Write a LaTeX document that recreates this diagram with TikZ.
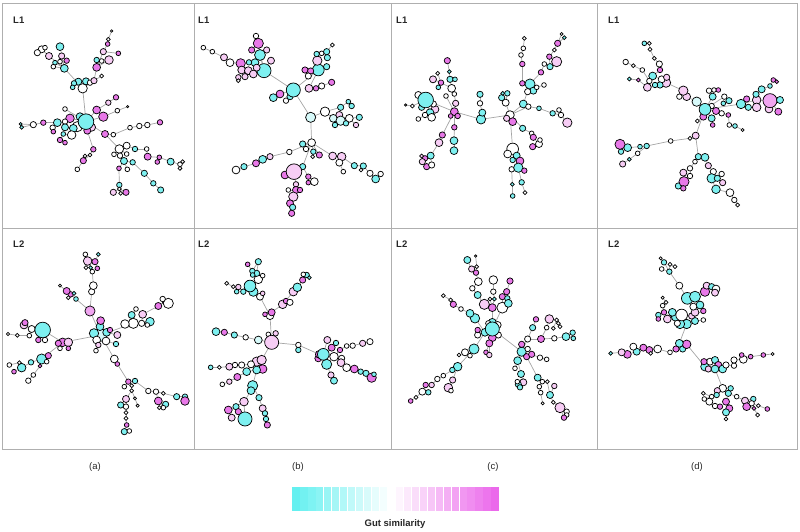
\documentclass[tikz,border=0pt]{standalone}
\usepackage{fontspec}
\setmainfont{Liberation Sans}
\pgfdeclarelayer{bg}
\pgfsetlayers{bg,main}
\definecolor{Cy}{RGB}{125,240,240}
\definecolor{Mg}{RGB}{232,120,232}
\definecolor{Mp}{RGB}{240,165,240}
\definecolor{Pk}{RGB}{247,205,245}
\definecolor{Lc}{RGB}{215,250,250}
\definecolor{Wh}{RGB}{255,255,255}
\definecolor{BC}{RGB}{100,240,240}
\definecolor{BM}{RGB}{235,105,235}
\definecolor{Fr}{RGB}{175,175,175}
\definecolor{Ed}{RGB}{165,165,165}
\tikzset{
 vtx/.style={circle,draw=black,line width=0.72pt,inner sep=0pt,outer sep=0pt},
 lnk/.style={draw=Ed,line width=0.7pt},
 frm/.style={draw=Fr,line width=0.9pt},
 plab/.style={font=\fontsize{9.5}{11}\selectfont\bfseries,text=black!85,anchor=west,inner sep=0pt},
 clab/.style={font=\fontsize{9.5}{11}\selectfont,text=black!85,inner sep=0pt}
}
\newcommand\EL{}
\newcommand\NL[1]{\foreach \vN/\vP/\vX/\vY/\vR/\vC in {#1}{%
  \node[vtx,minimum size={\vR*0.78pt},fill=\vC] (\vN) at (\vX,\vY) {};%
  \xdef\EL{\unexpanded\expandafter{\EL}\noexpand\draw[lnk] (\vP.center) -- (\vN.center);}}}
\newcommand\RT[5]{\node[vtx,minimum size={#4*0.78pt},fill=#5] (#1) at (#2,#3) {};}
\begin{document}
\begin{tikzpicture}[x=1pt,y=-1pt]
\useasboundingbox (0,0) rectangle (800,531);
\draw[frm] (2,3) rectangle (797,449);
\draw[frm] (194,3) -- (194,449);
\draw[frm] (391,3) -- (391,449);
\draw[frm] (597,3) -- (597,449);
\draw[frm] (2,228) -- (797,228);
% ---------- panel a L1
\begin{scope}[shift={(0pt,0pt)},x=0.3333pt,y=-0.3333pt]
\NL{%
a2/a1/248/265/12/Wh,a3/a2/235/245/9/Cy,a4/a2/222/250/7/Cy,a5/a4/218/262/6/Cy,a6/a2/258/244/9/Cy,%
a7/a2/270/248/7/Wh,a8/a2/282/242/8/Pk,a9/a2/193/205/10/Cy,a10/a9/180/140/10/Cy,a11/a9/147/168/9/Pk,%
a12/a11/125/148/9/Wh,a13/a12/112/158/8/Wh,a14/a12/135/143/6/Wh,a15/a9/185/168/8/Pk,a16/a9/200/182/7/Mg,%
a17/a9/165/188/6/Cy,a18/a9/180/185/6/Wh,a19/a9/160/200/6/Wh,a21/a8/290/202/10/Mg,a22/a21/290/180/7/Cy,%
a23/a21/305/183/6/Wh,a24/a21/327/180/11/Pk,a25/a21/310/155/8/Pk,a26/a25/323/132/6/Mg,a27/a26/325/118/5/Wh,%
a28/a27/335/93/3/Wh,a29/a25/355/160/6/Mg,a30/a8/305/228/5/Wh,a31/a1/210/355/11/Mg,a32/a1/240/350/10/Cy,%
a33/a1/232/380/13/Wh,a34/a1/275/382/10/Pk,a35/a1/262/392/9/Mg,a36/a1/290/330/10/Mg,a37/a1/310/350/12/Mg,%
a38/a36/325/308/7/Pk,a39/a38/348/292/7/Mg,a40/a37/352/332/6/Wh,a41/a40/383/320/3/Wh,a42/a1/195/327/6/Wh,%
a44/a31/195/365/7/Wh,a45/a44/172/368/10/Cy,a46/a45/158/383/7/Wh,a47/a46/160/395/6/Mg,a48/a45/130/368/7/Mg,%
a49/a48/100/374/8/Wh,a50/a49/62/372/4/Cy,a51/a49/65/382/5/Cy,a53/a33/220/385/10/Cy,a54/a53/195/382/9/Cy,%
a55/a53/215/405/11/Wh,a56/a55/190/402/6/Cy,a57/a56/180/420/7/Mg,a58/a57/195/428/6/Mg,a59/a1/315/402/9/Mg,%
a60/a59/340/404/6/Wh,a61/a60/390/383/6/Wh,a62/a61/418/378/7/Wh,a64/a62/442/375/7/Wh,a65/a64/480/367/7/Mg,%
a66/a59/358/447/11/Wh,a67/a66/380/437/9/Wh,a68/a66/342/463/6/Wh,a69/a66/360/467/7/Wh,a70/a66/380/462/6/Wh,%
a71/a66/372/483/9/Cy,a72/a71/382/508/6/Wh,a73/a71/357/505/6/Mg,a74/a67/405/447/7/Cy,a75/a74/440/447/6/Wh,%
a76/a75/443/470/9/Mg,a77/a76/478/472/6/Mg,a78/a77/472/486/6/Mg,a79/a77/512/485/9/Cy,a80/a79/540/493/6/Wh,%
a81/a80/548/485/5/Wh,a82/a80/540/505/5/Wh,a83/a71/398/487/7/Cy,a84/a83/433/520/8/Cy,a85/a84/460/550/7/Cy,%
a86/a85/482/570/8/Cy,a87/a73/358/555/7/Cy,a88/a87/358/567/5/Wh,a89/a88/340/577/8/Pk,a90/a88/378/577/8/Mg,%
a91/a88/362/580/5/Wh,a92/a35/280/448/7/Mg,a93/a92/270/465/5/Wh,a94/a93/255/468/5/Wh,a95/a93/250/482/8/Mg,%
a96/a95/232/508/6/Wh}
\RT{a1}{258}{365}{20}{Cy}
\end{scope}
% ---------- panel b L1
\begin{scope}[shift={(190pt,0pt)},x=0.3333pt,y=-0.3333pt]
\NL{%
b2/b1/362/352/13/Lc,b3/b1/222/212/18/Cy,b4/b1/385/210/15/Cy,b5/b3/205/130/13/Mg,b6/b5/198/108/7/Wh,%
b7/b5/185/150/8/Mg,b9/b8/230/150/8/Pk,b10/b3/243/182/9/Pk,b8/b3/210/165/14/Cy,b11/b3/195/188/10/Cy,%
b12/b11/177/187/7/Cy,b13/b11/152/190/12/Mg,b14/b13/120/188/10/Wh,b15/b14/102/172/9/Pk,b16/b15/67/155/6/Wh,%
b17/b16/40/143/6/Wh,b18/b13/155/210/10/Pk,b19/b3/175/212/10/Pk,b20/b3/190/222/10/Pk,b21/b3/200/203/9/Pk,%
b22/b18/145/232/7/Pk,b23/b22/145/242/5/Wh,b24/b19/165/230/8/Pk,b26/b1/270/282/10/Mg,b27/b26/250/293/10/Cy,%
b28/b1/288/302/7/Wh,b29/b1/300/290/8/Cy,b31/b4/382/182/12/Pk,b32/b31/380/162/7/Cy,b33/b31/395/160/6/Wh,%
b34/b33/410/155/8/Cy,b35/b34/412/173/8/Cy,b36/b34/427/135/5/Wh,b37/b4/345/210/8/Mg,b38/b4/362/213/8/Mg,%
b39/b38/355/228/8/Wh,b40/b4/410/200/8/Cy,b41/b4/357/265/10/Pk,b42/b41/378/265/7/Mg,b43/b42/395/258/8/Wh,%
b44/b43/425/247/8/Mg,b45/b2/405/335/12/Wh,b46/b45/430/355/10/Lc,b47/b45/452/322/8/Cy,b48/b47/475/305/6/Cy,%
b49/b48/485/318/7/Cy,b50/b46/448/345/9/Pk,b51/b46/452/362/12/Lc,b52/b51/478/355/10/Wh,b53/b51/468/370/7/Cy,%
b54/b52/508/352/8/Cy,b55/b52/498/375/7/Pk,b56/b46/435/375/7/Cy,b57/b2/365/428/10/Wh,b58/b57/338/432/8/Cy,%
b59/b57/348/447/7/Wh,b60/b57/370/455/7/Cy,b61/b57/388/465/8/Mg,b62/b60/368/470/5/Wh,b63/b57/298/456/7/Wh,%
b64/b63/240/470/8/Pk,b65/b64/218/478/10/Cy,b66/b65/198/490/9/Mg,b67/b66/162/500/8/Cy,b68/b67/138/510/10/Wh,%
b69/b57/428/468/10/Pk,b70/b69/455/470/11/Pk,b71/b70/448/488/9/Wh,b72/b71/460/515/6/Wh,b73/b70/493/497/8/Cy,%
b74/b73/520/498/8/Cy,b75/b74/513/510/5/Wh,b76/b74/540/520/8/Wh,b77/b76/557/537/10/Cy,b78/b77/572/522/7/Wh,%
b79/b57/338/500/8/Cy,b81/b80/285/525/10/Mg,b80/b79/312/515/20/Pk,b82/b79/355/530/7/Mg,b83/b82/355/548/6/Mg,%
b84/b83/373/545/10/Wh,b85/b80/318/553/7/Pk,b86/b85/318/570/9/Mg,b87/b86/295/570/6/Wh,b88/b86/310/590/12/Pk,%
b89/b88/300/610/9/Mg,b90/b89/308/622/8/Cy,b91/b90/305/640/8/Mg,b92/b85/330/570/7/Mg}
\RT{b1}{310}{270}{18}{Cy}
\end{scope}
% ---------- panel c L1
\begin{scope}[shift={(385pt,0pt)},x=0.3333pt,y=-0.3333pt]
\RT{c1}{208}{335}{10}{Mg}
\NL{%
c2/c1/218/348/7/Mg,c3/c1/197/348/6/Mg,c4/c1/212/310/8/Pk,c5/c4/208/282/6/Wh,c7/c5/200/265/10/Wh,%
c8/c7/195/238/8/Cy,c9/c8/210/238/6/Cy,c10/c8/193/215/5/Cy,c11/c10/187/182/8/Mg,c12/c7/168/248/7/Mg,%
c13/c12/158/220/5/Wh,c14/c12/160/262/6/Cy,c15/c12/144/238/9/Pk,c16/c1/183/288/6/Wh,c18/c17/100/285/9/Wh,%
c19/c17/110/322/8/Cy,c21/c17/150/328/10/Pk,c27/c17/145/312/8/Wh,c25/c17/82/318/5/Wh,c26/c25/62/315/3/Wh,%
c17/c1/122/300/20/Cy,c20/c17/135/338/10/Cy,c22/c20/140/352/10/Wh,c23/c20/120/345/7/Wh,c24/c23/100/357/6/Wh,%
c28/c1/208/382/7/Mg,c29/c28/207/422/10/Cy,c30/c29/207/452/10/Cy,c31/c1/172/405/8/Mg,c32/c31/162/428/10/Pk,%
c33/c32/137/467/9/Cy,c34/c33/120/475/7/Mg,c38/c34/110/468/5/Pk,c35/c34/112/485/8/Pk,c36/c34/125/500/8/Mg,%
c37/c33/140/495/8/Wh,c39/c1/288/358/12/Cy,c40/c39/292/338/9/Cy,c41/c40/285/310/7/Wh,c42/c41/285/283/8/Cy,%
c43/c39/375/345/11/Wh,c44/c43/383/365/10/Mg,c45/c43/365/355/8/Pk,c46/c43/362/308/9/Wh,c47/c46/350/293/8/Cy,%
c48/c46/367/280/7/Cy,c49/c47/353/280/5/Cy,c50/c43/415/312/10/Cy,c51/c50/435/252/13/Cy,c52/c51/445/272/9/Cy,%
c53/c51/428/275/8/Wh,c54/c51/455/262/6/Wh,c55/c54/477/255/6/Wh,c56/c51/412/250/7/Mg,c57/c56/412/192/7/Mg,%
c58/c57/408/165/6/Wh,c59/c58/415/145/6/Wh,c60/c59/418/115/5/Wh,c61/c51/468/217/7/Mg,c62/c61/478/192/6/Wh,%
c63/c62/495/200/8/Cy,c64/c63/493/170/7/Mg,c65/c63/515/185/13/Pk,c66/c64/508/150/5/Wh,c67/c66/518/130/8/Mg,%
c68/c67/530/102/4/Wh,c69/c67/538/113/5/Cy,c70/c43/430/320/7/Wh,c71/c70/462/325/6/Cy,c72/c71/503/340/7/Cy,%
c73/c72/522/330/6/Wh,c74/c72/528/345/7/Wh,c75/c74/547/368/12/Pk,c76/c43/413/385/8/Cy,c77/c76/440/400/6/Wh,%
c78/c77/445/412/8/Mg,c79/c78/462/432/9/Wh,c80/c79/465/420/6/Wh,c81/c79/443/440/8/Mg,c82/c43/383/447/15/Wh,%
c83/c82/368/462/10/Wh,c84/c82/395/467/9/Cy,c85/c84/383/480/7/Cy,c86/c84/405/483/10/Mg,c88/c87/380/508/7/Wh,%
c87/c86/400/503/12/Cy,c89/c87/418/512/7/Mg,c90/c87/410/547/7/Cy,c91/c88/382/553/5/Cy,c92/c90/420/578/5/Wh,%
c93/c91/383/588/6/Cy}
\end{scope}
% ---------- panel d L1
\begin{scope}[shift={(590pt,0pt)},x=0.3333pt,y=-0.3333pt]
\NL{%
d2/d1/320/305/12/Lc,d3/d1/340/350/9/Mg,d4/d1/365/355/9/Cy,d5/d1/378/333/9/Mg,d6/d5/395/340/7/Wh,%
d7/d1/365/318/7/Wh,d8/d4/368/375/6/Mg,d9/d1/368/290/9/Cy,d10/d9/357/272/7/Wh,d11/d9/372/270/6/Wh,%
d12/d11/385/270/6/Mg,d13/d1/403/290/7/Wh,d14/d13/417/302/8/Cy,d15/d13/400/310/6/Cy,d17/d6/415/345/6/Mg,%
d18/d17/418/375/6/Wh,d19/d18/435/378/6/Cy,d20/d19/458/390/4/Wh,d21/d3/322/363/5/Wh,d22/d1/453/312/12/Cy,%
d23/d22/470/297/8/Mg,d24/d22/475/322/8/Cy,d25/d22/500/300/11/Pk,d26/d25/500/322/11/Pk,d27/d25/498/283/8/Cy,%
d28/d27/515/268/9/Cy,d32/d29/537/327/10/Pk,d29/d25/540/302/18/Mp,d30/d29/570/300/9/Cy,d31/d29/565/335/9/Mg,%
d33/d28/540/258/6/Cy,d34/d33/550/240/6/Mg,d35/d34/560/245/5/Mg,d36/d2/290/290/10/Pk,d37/d36/280/272/12/Pk,%
d38/d37/268/290/7/Wh,d39/d37/228/248/12/Pk,d40/d39/215/238/9/Wh,d41/d40/230/232/8/Pk,d42/d39/210/255/8/Cy,%
d43/d42/195/255/7/Cy,d44/d40/188/228/10/Cy,d45/d42/172/262/10/Pk,d46/d44/178/243/7/Wh,d47/d44/210/210/7/Mg,%
d48/d47/208/192/8/Wh,d49/d48/193/175/5/Wh,d50/d49/180/148/5/Wh,d51/d50/178/130/5/Wh,d52/d51/163/130/6/Cy,%
d53/d46/157/210/6/Wh,d54/d53/130/197/5/Wh,d55/d54/107/186/7/Wh,d56/d45/145/240/5/Mg,d57/d56/118/237/5/Cy,%
d58/d1/317/407/9/Pk,d59/d58/300/415/5/Wh,d60/d59/242/423/6/Wh,d61/d60/170/438/7/Cy,d62/d61/150/440/6/Cy,%
d63/d62/113/443/10/Cy,d65/d64/93/455/7/Cy,d64/d63/90/433/13/Mg,d66/d61/143/460/6/Wh,d67/d66/118/478/5/Cy,%
d68/d67/98/492/8/Pk,d69/d58/325/470/8/Cy,d70/d69/345/472/10/Cy,d71/d70/355/497/8/Pk,d72/d69/315/485/6/Wh,%
d73/d72/300/505/7/Wh,d74/d73/280/518/9/Pk,d75/d73/300/528/7/Wh,d77/d76/265/558/8/Cy,d76/d74/282/545/13/Mg,%
d78/d76/280/565/7/Mg,d79/d71/370/515/8/Wh,d80/d79/365/535/12/Cy,d81/d79/382/535/8/Cy,d82/d81/395/522/7/Wh,%
d83/d81/398/548/8/Pk,d84/d80/378/568/11/Cy,d85/d84/420/578/10/Wh,d86/d85/433/600/7/Wh,d87/d86/443/615/5/Wh}
\RT{d1}{345}{328}{15}{Cy}
\end{scope}
% ---------- panel a L2
\begin{scope}[shift={(0pt,-225pt)},x=0.3333pt,y=-0.3333pt]
\RT{e1}{302}{330}{16}{Lc}
\NL{%
e2/e1/300/305/10/Cy,e3/e2/302/287/10/Mg,e4/e1/282/325/12/Cy,e5/e1/320/322/10/Cy,e6/e1/290/345/10/Wh,%
e7/e1/318/348/10/Wh,e8/e6/295/360/7/Pk,e9/e8/288/377/6/Wh,e10/e5/330/315/7/Mg,e11/e5/352/330/9/Pk,%
e12/e7/348/357/7/Cy,e13/e1/270/258/13/Mp,e14/e13/275/200/8/Wh,e15/e14/280/182/10/Wh,e16/e15/277/140/6/Wh,%
e17/e16/263/108/11/Pk,e18/e17/256/88/6/Wh,e19/e17/285/110/8/Mg,e20/e19/295/88/5/Cy,e21/e19/292/130/6/Mg,%
e22/e17/272/128/5/Cy,e23/e22/258/128/5/Wh,e24/e13/228/222/6/Cy,e25/e24/212/208/7/Mg,e26/e25/200/198/9/Mg,%
e27/e26/180/182/4/Wh,e28/e25/222/205/5/Cy,e29/e25/205/218/5/Wh,e30/e1/400/295/13/Wh,e31/e30/375/297/11/Wh,%
e32/e30/395/270/9/Cy,e33/e32/408/252/6/Wh,e34/e30/425/295/8/Wh,e35/e34/428/268/10/Pk,e36/e34/450/290/11/Cy,%
e37/e36/442/300/6/Wh,e38/e35/475/243/9/Mg,e39/e38/495/230/7/Mg,e40/e39/505/235/13/Wh,e41/e39/488/222/7/Wh,%
e42/e1/188/352/11/Mg,e43/e42/205/352/11/Pk,e44/e42/175/355/8/Mg,e45/e43/205/370/6/Mg,e46/e42/180/370/6/Wh,%
e48/e47/95/312/9/Wh,e49/e48/72/300/10/Pk,e50/e49/75/293/8/Mg,e47/e42/128/315/20/Cy,e51/e47/115/345/7/Mg,%
e52/e47/135/345/7/Wh,e53/e48/88/332/6/Wh,e54/e53/52/331/5/Wh,e55/e54/24/327/4/Wh,e56/e42/125/402/13/Cy,%
e57/e56/145/392/8/Mg,e58/e56/140/410/6/Wh,e59/e56/93/412/7/Cy,e60/e59/65/428/11/Cy,e61/e60/58/413/5/Wh,%
e62/e60/42/440/6/Mg,e63/e61/28/420/6/Wh,e64/e56/120/423/5/Mg,e65/e64/100/450/6/Wh,e66/e65/85/467/7/Wh,%
e67/e1/343/402/10/Wh,e68/e67/352/417/6/Mg,e69/e68/385/470/7/Mg,e70/e69/405/468/7/Cy,e71/e69/373/485/6/Wh,%
e72/e69/395/482/5/Wh,e73/e72/395/497/5/Wh,e74/e73/378/522/9/Pk,e75/e74/362/540/8/Cy,e76/e74/378/545/7/Wh,%
e77/e73/405/520/4/Wh,e78/e77/413/542/4/Wh,e79/e76/378/563/5/Wh,e80/e79/378/580/5/Wh,e81/e80/380/600/6/Mg,%
e82/e81/373/620/8/Cy,e83/e82/388/618/6/Wh,e84/e70/445/498/7/Wh,e85/e84/468/500/7/Wh,e86/e85/490/505/5/Wh,%
e87/e85/475/528/10/Mg,e88/e87/497/538/8/Cy,e89/e87/490/548/6/Wh,e90/e87/478/548/5/Wh,e91/e86/530/515/8/Cy,%
e92/e91/555/515/7/Cy,e93/e92/555/528/11/Mg}
\end{scope}
% ---------- panel b L2
\begin{scope}[shift={(190pt,-225pt)},x=0.3333pt,y=-0.3333pt]
\NL{%
f2/f1/235/328/6/Wh,f3/f1/257/325/7/Pk,f5/f1/240/272/10/Wh,f6/f5/245/262/9/Mg,f7/f5/225/268/6/Mg,%
f8/f5/210/215/9/Wh,f9/f8/190/200/12/Cy,f10/f9/180/183/15/Cy,f11/f10/205/163/11/Wh,f12/f11/200/145/8/Cy,%
f13/f12/205/110/8/Cy,f14/f13/187/138/7/Cy,f15/f14/188/150/6/Cy,f16/f14/173/118/6/Mg,f17/f11/218/152/6/Wh,%
f18/f10/160/200/7/Cy,f19/f18/145/186/7/Pk,f20/f19/140/200/6/Cy,f21/f19/130/185/5/Wh,f22/f21/110/175/5/Wh,%
f23/f8/218/205/6/Pk,f26/f6/278/238/11/Pk,f27/f26/288/228/7/Mg,f28/f26/310/200/11/Pk,f29/f28/322/187/11/Cy,%
f30/f29/338/165/8/Mg,f31/f30/350/150/7/Cy,f32/f31/358/158/5/Cy,f33/f31/340/148/6/Wh,f34/f27/300/232/8/Wh,%
f35/f1/205/345/10/Lc,f36/f35/167/337/7/Wh,f37/f36/133/330/8/Cy,f38/f37/103/322/8/Mg,f39/f38/78/320/10/Cy,%
f41/f40/200/410/12/Pk,f40/f1/215/405/12/Pk,f42/f40/218/432/11/Mg,f43/f41/183/418/9/Wh,f44/f42/200/435/10/Cy,%
f45/f44/170/440/10/Cy,f46/f43/155/420/8/Wh,f47/f46/135/420/7/Wh,f48/f47/118/425/9/Pk,f49/f48/88/427/5/Wh,%
f50/f49/62/427/6/Cy,f51/f45/142/456/9/Mg,f52/f51/118/470/7/Pk,f53/f52/97/478/6/Wh,f54/f44/188/482/13/Cy,%
f55/f54/183/497/10/Cy,f56/f54/207/518/8/Cy,f57/f55/162/530/11/Pk,f58/f57/138/545/8/Cy,f59/f58/115/555/10/Mg,%
f60/f59/125/578/9/Pk,f62/f61/145/560/8/Mg,f61/f57/165/582/18/Cy,f63/f56/218/550/9/Pk,f64/f63/225/565/7/Cy,%
f65/f64/228/582/7/Cy,f66/f65/232/600/8/Mg,f67/f1/325/360/7/Wh,f68/f67/325/375/7/Cy,f72/f71/412/345/9/Pk,%
f76/f71/385/400/9/Mg,f70/f67/388/388/10/Mg,f73/f71/425/368/9/Mg,f74/f73/438/354/7/Cy,f77/f71/432/395/11/Wh,%
f75/f71/410/418/13/Cy,f71/f70/400/388/15/Cy,f78/f77/450/375/7/Mg,f79/f77/455/400/8/Wh,f80/f79/453/413/10/Pk,%
f81/f80/470/428/10/Wh,f82/f81/493/432/10/Mg,f83/f82/512/440/7/Cy,f84/f83/528/445/8/Cy,f85/f84/545/458/12/Mg,%
f86/f85/552/448/6/Cy,f87/f75/423/450/8/Pk,f88/f87/432/467/9/Cy,f89/f78/470/363/6/Wh,f90/f89/488/362/7/Wh,%
f91/f90/518/355/8/Pk,f92/f91/540/350/8/Wh}
\RT{f1}{245}{352}{18}{Pk}
\end{scope}
% ---------- panel c L2
\begin{scope}[shift={(385pt,-225pt)},x=0.3333pt,y=-0.3333pt]
\NL{%
g3/g1/322/292/10/Cy,g4/g1/338/300/9/Wh,g7/g1/310/295/7/Wh,g2/g1/300/322/10/Cy,g5/g1/340/330/8/Wh,%
g6/g1/322/338/10/Mg,g8/g2/278/330/8/Wh,g9/g2/278/315/7/Mg,g10/g6/313/355/9/Mg,g11/g10/303/382/6/Mg,%
g12/g10/313/390/7/Pk,g13/g1/322/248/10/Mg,g14/g13/298/238/13/Pk,g15/g13/315/222/5/Wh,g16/g13/328/222/5/Cy,%
g17/g16/325/200/7/Wh,g18/g17/325/165/11/Wh,g19/g1/352/248/14/Wh,g20/g19/352/215/8/Mg,g21/g19/367/220/7/Cy,%
g22/g19/370/235/10/Cy,g23/g20/365/200/8/Mg,g24/g23/375/168/8/Mg,g25/g14/278/210/9/Cy,g26/g25/262/190/7/Wh,%
g27/g26/280/170/10/Wh,g28/g27/273/143/7/Mg,g29/g28/275/125/5/Wh,g30/g29/260/132/8/Pk,g31/g30/247/105/9/Cy,%
g32/g29/272/93/3/Wh,g33/g2/270/280/12/Cy,g34/g33/255/265/10/Cy,g36/g34/228/252/6/Wh,g37/g36/205/238/8/Mg,%
g38/g37/197/225/5/Wh,g39/g38/175/212/5/Wh,g40/g2/267/372/13/Cy,g41/g40/240/382/9/Wh,g42/g41/255/392/6/Wh,%
g43/g41/222/390/5/Wh,g44/g40/218/425/11/Cy,g45/g44/202/435/7/Cy,g46/g44/203/465/8/Pk,g47/g46/190/488/11/Pk,%
g48/g47/198/497/6/Wh,g49/g45/175/452/6/Wh,g50/g49/157/462/7/Wh,g51/g50/140/480/7/Pk,g52/g51/122/480/7/Mg,%
g53/g52/112/500/9/Wh,g54/g53/130/502/7/Cy,g55/g53/93/517/5/Wh,g56/g55/77/528/6/Mg,g57/g1/410/380/12/Cy,%
g58/g57/410/358/8/Mg,g59/g57/398/407/10/Cy,g60/g57/425/395/8/Mg,g61/g60/440/388/8/Mg,g62/g57/428/372/7/Wh,%
g63/g61/465/398/7/Wh,g64/g63/485/403/6/Wh,g66/g59/390/430/6/Wh,g67/g59/408/447/9/Cy,g68/g67/415/472/9/Pk,%
g69/g68/400/478/8/Cy,g70/g69/405/487/7/Cy,g71/g69/397/470/6/Wh,g72/g60/458/458/9/Cy,g73/g72/472/470/6/Wh,%
g74/g73/487/470/5/Wh,g75/g73/463/485/6/Wh,g76/g75/467/503/6/Wh,g77/g76/473/535/4/Wh,g78/g74/495/510/9/Cy,%
g79/g78/508/483/7/Pk,g80/g78/505/532/5/Wh,g81/g80/525/548/13/Pk,g82/g81/545/560/7/Wh,g84/g82/545/570/6/Wh,%
g83/g81/537/578/7/Mg,g85/g57/428/342/8/Wh,g86/g85/468/342/9/Mg,g87/g85/443/308/8/Cy,g88/g87/453/283/7/Mg,%
g89/g86/485/308/6/Wh,g90/g86/508/340/7/Wh,g91/g90/543/335/10/Cy,g92/g91/563/323/7/Cy,g93/g91/565/340/6/Cy,%
g94/g89/493/282/11/Pk,g95/g94/515/285/5/Wh,g96/g95/520/295/5/Wh,g97/g96/525/305/5/Wh,g98/g95/505/310/5/Wh}
\RT{g1}{322}{312}{18}{Cy}
\end{scope}
% ---------- panel d L2
\begin{scope}[shift={(590pt,-225pt)},x=0.3333pt,y=-0.3333pt]
\NL{%
h3/h1/278/372/8/Cy,h4/h1/258/372/8/Mg,h5/h4/240/382/6/Wh,h6/h1/290/297/12/Cy,h7/h6/270/297/12/Cy,%
h8/h7/258/275/12/Cy,h9/h8/275/270/15/Wh,h10/h8/247/262/10/Cy,h11/h7/262/295/8/Wh,h12/h10/232/282/10/Pk,%
h13/h12/222/262/7/Mg,h14/h13/205/270/7/Cy,h15/h14/205/282/6/Mg,h16/h13/218/242/6/Wh,h17/h16/228/232/5/Wh,%
h18/h17/218/218/4/Wh,h19/h6/315/288/9/Cy,h20/h19/305/273/8/Pk,h21/h19/340/285/6/Wh,h22/h20/340/258/7/Mg,%
h23/h20/315/262/10/Pk,h26/h25/292/220/15/Cy,h24/h23/330/240/10/Cy,h27/h26/310/245/9/Wh,h25/h24/315/215/14/Cy,%
h28/h25/345/200/12/Mg,h29/h28/350/182/9/Pk,h30/h29/365/185/8/Cy,h31/h30/378/192/10/Wh,h32/h31/375/203/9/Pk,%
h33/h26/268/182/9/Wh,h34/h33/238/140/7/Cy,h35/h34/222/112/7/Cy,h36/h34/215/132/6/Wh,h37/h35/212/100/4/Wh,%
h38/h34/240/118/5/Wh,h39/h38/255/125/5/Wh,h41/h5/203/372/10/Wh,h42/h41/178/375/9/Mg,h43/h42/160/368/9/Mg,%
h44/h43/140/380/9/Cy,h45/h44/130/365/9/Wh,h46/h44/112/388/10/Mg,h47/h46/95/382/9/Pk,h48/h47/62/385/5/Cy,%
h49/h42/182/385/5/Wh,h2/h1/290/358/11/Mg,h50/h2/345/425/11/Cy,h51/h50/360/410/9/Wh,h52/h51/375/405/9/Cy,%
h53/h52/385/420/9/Mg,h56/h50/342/410/8/Mg,h57/h50/355/432/8/Pk,h54/h53/375/432/10/Cy,h55/h53/398/432/10/Cy,%
h58/h53/408/420/8/Wh,h59/h58/432/422/7/Wh,h60/h59/432/405/8/Wh,h61/h60/460/403/10/Wh,h62/h61/455/390/6/Mg,%
h63/h61/482/395/6/Mg,h64/h63/520/390/6/Mg,h65/h64/548/387/4/Wh,h66/h54/398/490/10/Wh,h67/h66/382/497/8/Pk,%
h68/h66/415/505/8/Cy,h69/h68/422/490/7/Cy,h70/h67/380/510/7/Cy,h71/h70/365/515/6/Wh,h72/h71/340/505/5/Wh,%
h73/h71/343/522/6/Wh,h74/h73/358/530/9/Wh,h75/h74/375/543/7/Wh,h76/h75/390/545/7/Mg,h77/h68/408/530/9/Mg,%
h78/h77/418/550/9/Mg,h79/h78/408/562/9/Cy,h80/h79/408/582/5/Wh,h82/h68/440/515/6/Wh,h83/h82/465/527/9/Pk,%
h84/h83/470/545/10/Mg,h85/h83/490/522/7/Cy,h86/h85/485/535/7/Wh,h87/h86/505/542/5/Wh,h88/h84/492/550/5/Mg,%
h89/h88/503/570/5/Wh,h90/h87/532/552/6/Mg}
\RT{h1}{268}{355}{10}{Cy}
\end{scope}
% ---------- edges
\begin{pgfonlayer}{bg}
\EL
\end{pgfonlayer}
% ---------- panel labels
\node[plab] (tA1) at (13,20) {L1};
\node[plab] (tB1) at (198,20) {L1};
\node[plab] (tC1) at (396,20) {L1};
\node[plab] (tD1) at (608,20) {L1};
\node[plab] (tA2) at (13,244) {L2};
\node[plab] (tB2) at (198,244) {L2};
\node[plab] (tC2) at (396,244) {L2};
\node[plab] (tD2) at (608,244) {L2};
\node[clab] (ca) at (95,467) {(a)};
\node[clab] (cb) at (298,467) {(b)};
\node[clab] (cc) at (493,467) {(c)};
\node[clab] (cd) at (697,467) {(d)};
% ---------- colour bar
\foreach \i in {0,...,25}{%
 \ifnum\i<13 \pgfmathtruncatemacro\pc{100*(12-\i)/12}\colorlet{segc}{BC!\pc!white}%
 \else\pgfmathtruncatemacro\pc{100*(\i-12)/13}\colorlet{segc}{BM!\pc!white}\fi
 \fill[segc] ({292+\i*7.96+0.35},487) rectangle ({292+\i*7.96+7.61},511);}
\node[clab,font=\fontsize{9.5}{11}\selectfont\bfseries] (gs) at (395,524) {Gut similarity};
\end{tikzpicture}
\end{document}
